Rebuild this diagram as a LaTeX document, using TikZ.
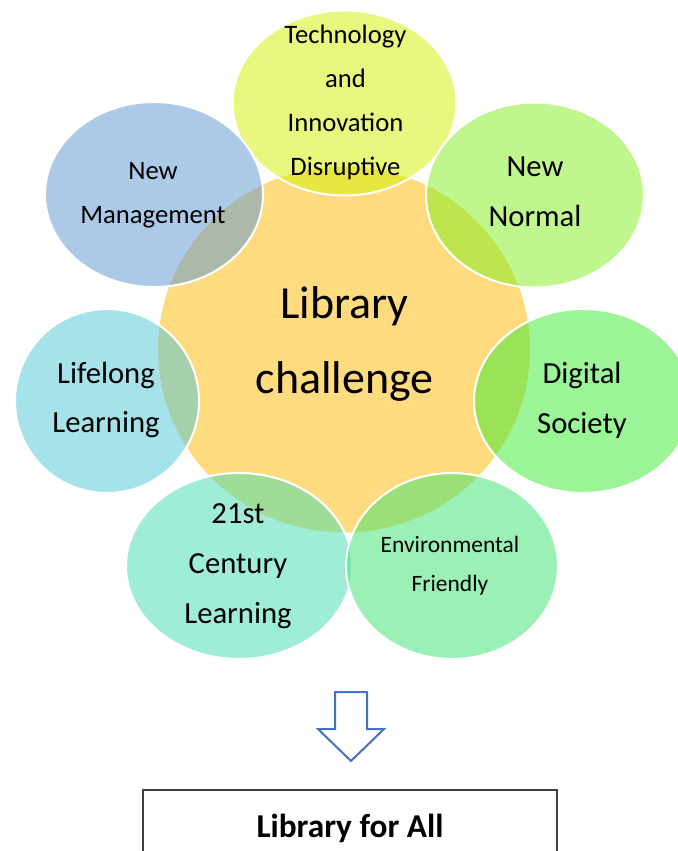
\documentclass[tikz,border=0pt]{standalone}
\usepackage{fontspec}
\setmainfont{Carlito}
\usetikzlibrary{shapes.geometric}
\definecolor{cCore}{RGB}{255,219,128}
\definecolor{cTech}{RGB}{211,243,1}
\definecolor{cMgmt}{RGB}{91,151,211}
\definecolor{cNormal}{RGB}{129,239,29}
\definecolor{cLife}{RGB}{77,199,215}
\definecolor{cDigital}{RGB}{57,235,45}
\definecolor{cCentury}{RGB}{65,221,177}
\definecolor{cEnv}{RGB}{57,229,109}
\definecolor{cArrow}{RGB}{68,114,196}
\definecolor{cBox}{RGB}{64,64,64}
\tikzset{
  bubble/.style={ellipse, inner sep=0pt, outer sep=0pt, fill opacity=0.5, draw=white, draw opacity=1, line width=1.5pt},
  core/.style={ellipse, inner sep=0pt, outer sep=0pt, fill=cCore},
  lbl/.style={anchor=base, inner sep=0pt, text=black},
  fA/.style={font=\fontsize{34.5}{40}\selectfont},
  fB/.style={font=\fontsize{20}{24}\selectfont},
  fC/.style={font=\fontsize{23}{27}\selectfont},
  fD/.style={font=\fontsize{17.6}{21}\selectfont},
  blockarrow/.style={draw=cArrow, line width=1.5pt, line join=miter},
  resultbox/.style={draw=cBox, line width=1pt, inner sep=0pt}
}
\begin{document}
\begin{tikzpicture}[x=0.75pt,y=-0.75pt]
\useasboundingbox (0,0) rectangle (678,851);
\clip (0,0) rectangle (678,851);
\fill[white] (0,0) rectangle (678,851);
% central circle
\node[core, minimum width=279pt, minimum height=274.5pt] (core) at (344,349.5) {};
% outer bubbles
\node[bubble, fill=cTech, minimum width=168pt, minimum height=138.75pt] (tech) at (344.5,103) {};
\node[bubble, fill=cMgmt, minimum width=163.5pt, minimum height=138.75pt] (mgmt) at (154,194.5) {};
\node[bubble, fill=cNormal, minimum width=163.5pt, minimum height=138.75pt] (normal) at (535,195) {};
\node[bubble, fill=cLife, minimum width=138pt, minimum height=138pt] (life) at (107,401) {};
\node[bubble, fill=cDigital, minimum width=163.5pt, minimum height=138pt] (digital) at (583,401) {};
\node[bubble, fill=cCentury, minimum width=169.5pt, minimum height=139.5pt] (century) at (239,566) {};
\node[bubble, fill=cEnv, minimum width=159pt, minimum height=139.5pt] (env) at (452,566) {};
% labels
\node[lbl, fA] (coreA) at (344.7,318) {Library};
\node[lbl, fA] (coreB) at (344.7,393) {challenge};
\node[lbl, fB] (techA) at (345.5,43) {Technology};
\node[lbl, fB] (techB) at (345.5,87) {and};
\node[lbl, fB] (techC) at (345.5,131) {Innovation};
\node[lbl, fB] (techD) at (345.5,175) {Disruptive};
\node[lbl, fB] (mgmtA) at (153,179) {New};
\node[lbl, fB] (mgmtB) at (153,223) {Management};
\node[lbl, fC] (normalA) at (535,176) {New};
\node[lbl, fC] (normalB) at (535,226) {Normal};
\node[lbl, fC] (lifeA) at (106,383) {Lifelong};
\node[lbl, fC] (lifeB) at (106,432) {Learning};
\node[lbl, fC] (digitalA) at (582,383) {Digital};
\node[lbl, fC] (digitalB) at (582,433) {Society};
\node[lbl, fC] (centuryA) at (238,523) {21st};
\node[lbl, fC] (centuryB) at (238,573) {Century};
\node[lbl, fC] (centuryC) at (238,623) {Learning};
\node[lbl, fD] (envA) at (450,552) {Environmental};
\node[lbl, fD] (envB) at (450,591) {Friendly};
% block arrow
\coordinate (arrowtip) at (351,761);
\draw[blockarrow] (335,692) -- (367,692) -- (367,729) -- (384,729) -- (arrowtip) -- (318,729) -- (335,729) -- cycle;
% result box
\node[resultbox, minimum width=310.5pt, minimum height=60pt] (box) at (350,830) {};
\node[lbl, font=\fontsize{25}{30}\selectfont\bfseries] (boxtext) at (350,837) {Library for All};
\end{tikzpicture}
\end{document}
